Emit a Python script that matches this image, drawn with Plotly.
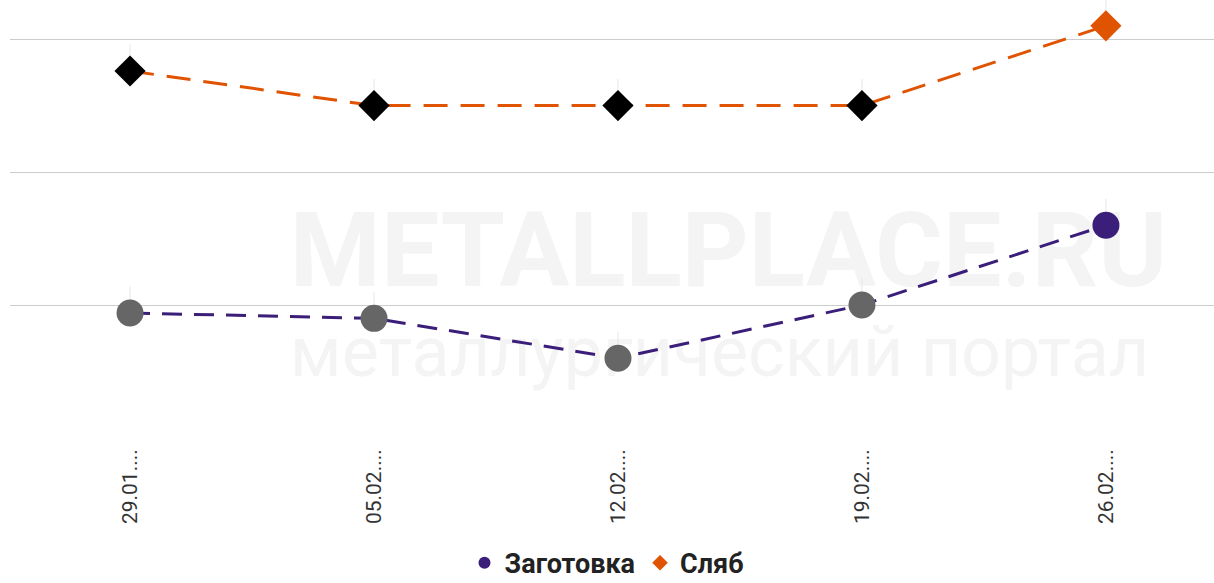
import plotly.graph_objects as go

dates = ["29.01....", "05.02....", "12.02....", "19.02....", "26.02...."]
billet = [497, 495, 480, 500, 530]
slab = [588, 575, 575, 575, 605]

billet_marker_colors = ["#666666", "#666666", "#666666", "#666666", "#3a1e7a"]
slab_marker_colors = ["#000000", "#000000", "#000000", "#000000", "#e05300"]
leader = [10, 10, 10, 10, 10]

watermark_texts = ["<b>METALLPLACE.RU</b>", "металлургический портал"]

x = list(range(len(dates)))

fig = go.Figure()

# faint watermark drawn beneath the data
fig.add_trace(go.Scatter(
    x=[0.655], y=[517], mode="text", text=[watermark_texts[0]],
    textposition="middle right", textfont=dict(family="Roboto", size=104, color="#f4f4f4"),
    showlegend=False, hoverinfo="skip", cliponaxis=False,
))
fig.add_trace(go.Scatter(
    x=[0.655], y=[480], mode="text", text=[watermark_texts[1]],
    textposition="middle right", textfont=dict(family="Roboto", size=70, color="#f4f4f4"),
    showlegend=False, hoverinfo="skip", cliponaxis=False,
))

fig.add_trace(go.Scatter(
    x=x, y=billet, name="Заготовка", mode="lines+markers", showlegend=False,
    line=dict(color="#3a1e7a", width=3, dash="20px,12px"),
    marker=dict(symbol="circle", size=27, color=billet_marker_colors),
    error_y=dict(type="data", symmetric=False, array=leader, arrayminus=[0]*5,
                 color="#e6e6e6", thickness=1, width=0),
))
fig.add_trace(go.Scatter(
    x=x, y=slab, name="Сляб", mode="lines+markers", showlegend=False,
    line=dict(color="#e05300", width=3, dash="24px,13px"),
    marker=dict(symbol="diamond", size=24, color=slab_marker_colors),
    error_y=dict(type="data", symmetric=False, array=leader, arrayminus=[0]*5,
                 color="#e6e6e6", thickness=1, width=0),
))

# legend entries with the series colours
fig.add_trace(go.Scatter(x=[None], y=[None], name="Заготовка", mode="markers",
                         marker=dict(symbol="circle", size=20, color="#3a1e7a")))
fig.add_trace(go.Scatter(x=[None], y=[None], name="Сляб", mode="markers",
                         marker=dict(symbol="diamond", size=20, color="#e05300")))

fig.update_layout(
    width=1214, height=583,
    margin=dict(l=10, r=0, t=0, b=145, autoexpand=False),
    paper_bgcolor="white", plot_bgcolor="rgba(0,0,0,0)",
    font=dict(family="Roboto", color="#333333"),
    showlegend=True,
    legend=dict(orientation="h", x=0.5, xanchor="center", xref="container",
                y=0.034, yanchor="middle", yref="container",
                font=dict(family="Roboto", size=27, color="#222222", weight="bold"),
                itemsizing="constant", traceorder="normal", itemwidth=30),
)
fig.update_xaxes(
    range=[-0.492, 4.443], tickmode="array", tickvals=x, ticktext=dates,
    tickangle=-90, tickfont=dict(family="Roboto", size=21, color="#333333"),
    ticklabelstandoff=6,
    showgrid=False, zeroline=False, showline=False, ticks="", automargin=False,
)
fig.update_yaxes(
    range=[450, 614.7], tick0=450, dtick=50, showticklabels=False,
    showgrid=True, gridcolor="#cccccc", gridwidth=1, zeroline=False, showline=False,
    automargin=False,
)

fig.write_html("out.html", config={"displayModeBar": False},
               post_script="document.body.style.margin='0';")
